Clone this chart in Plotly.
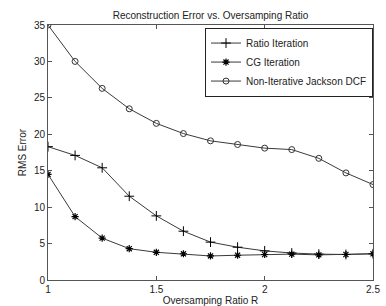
import plotly.graph_objects as go

ratio_r = [1, 1.125, 1.25, 1.375, 1.5, 1.625, 1.75, 1.875, 2, 2.125, 2.25, 2.375, 2.5]
ratio_iter = [18.3, 17.1, 15.4, 11.5, 8.8, 6.7, 5.2, 4.5, 4.0, 3.7, 3.55, 3.5, 3.6]
cg_iter = [14.5, 8.7, 5.75, 4.3, 3.8, 3.6, 3.3, 3.4, 3.5, 3.55, 3.45, 3.5, 3.6]
jackson = [35, 30, 26.3, 23.5, 21.5, 20.1, 19.1, 18.6, 18.1, 17.9, 16.7, 14.7, 13.1]

x_ticks = [1, 1.5, 2, 2.5]
x_tick_labels = ["1", "1.5", "2", "2.5"]
y_ticks = [0, 5, 10, 15, 20, 25, 30, 35]

FONT = "Liberation Sans, Arial, sans-serif"
line_col = "#3a3a3a"

fig = go.Figure()
fig.add_trace(go.Scatter(x=ratio_r, y=ratio_iter, name="Ratio Iteration", mode="lines+markers",
                         line=dict(color=line_col, width=1),
                         marker=dict(symbol="cross-thin-open", size=7, color="black", line=dict(width=1, color="black"))))
fig.add_trace(go.Scatter(x=ratio_r, y=cg_iter, name="CG Iteration", mode="lines+markers",
                         line=dict(color=line_col, width=1),
                         marker=dict(symbol="asterisk-open", size=6, color="black", line=dict(width=1.2, color="black"))))
fig.add_trace(go.Scatter(x=ratio_r, y=jackson, name="Non-Iterative Jackson DCF", mode="lines+markers",
                         line=dict(color=line_col, width=1),
                         marker=dict(symbol="circle-open", size=6, color="#333333", line=dict(width=1, color="#333333"))))

axis_common = dict(showline=True, linecolor="#555555", linewidth=1, mirror="ticks",
                   ticks="inside", ticklen=4, tickcolor="#555555", showgrid=False, zeroline=False,
                   tickfont=dict(family=FONT, size=10, color="#222222"))

fig.update_layout(
    width=386, height=306,
    margin=dict(l=48, r=13, t=25, b=26, autoexpand=False),
    paper_bgcolor="white", plot_bgcolor="white",
    font=dict(family=FONT, size=10, color="#222222"),
    title=dict(text="Reconstruction Error vs. Oversamping Ratio", x=0.5, xanchor="center",
               yref="container", y=1 - 15 / 306, yanchor="middle", xref="paper",
               font=dict(family=FONT, size=10), automargin=False),
    xaxis=dict(range=[1, 2.5], tickvals=x_ticks, ticktext=x_tick_labels, automargin=False,
               title=dict(text="Oversamping Ratio R", font=dict(family=FONT, size=10)), **axis_common),
    yaxis=dict(range=[0, 35], tickvals=y_ticks, automargin=True,
               title=dict(text="RMS Error", standoff=5, font=dict(family=FONT, size=10)), **axis_common),
    legend=dict(x=1, xanchor="right", y=0.99, yanchor="top", bgcolor="white",
                bordercolor="#222222", borderwidth=1, font=dict(family=FONT, size=10),
                tracegroupgap=0, itemwidth=30),
    showlegend=True,
)

fig.write_html("out.html", config={"displayModeBar": False},
               post_script="document.body.style.margin='0';document.body.style.padding='0';")
